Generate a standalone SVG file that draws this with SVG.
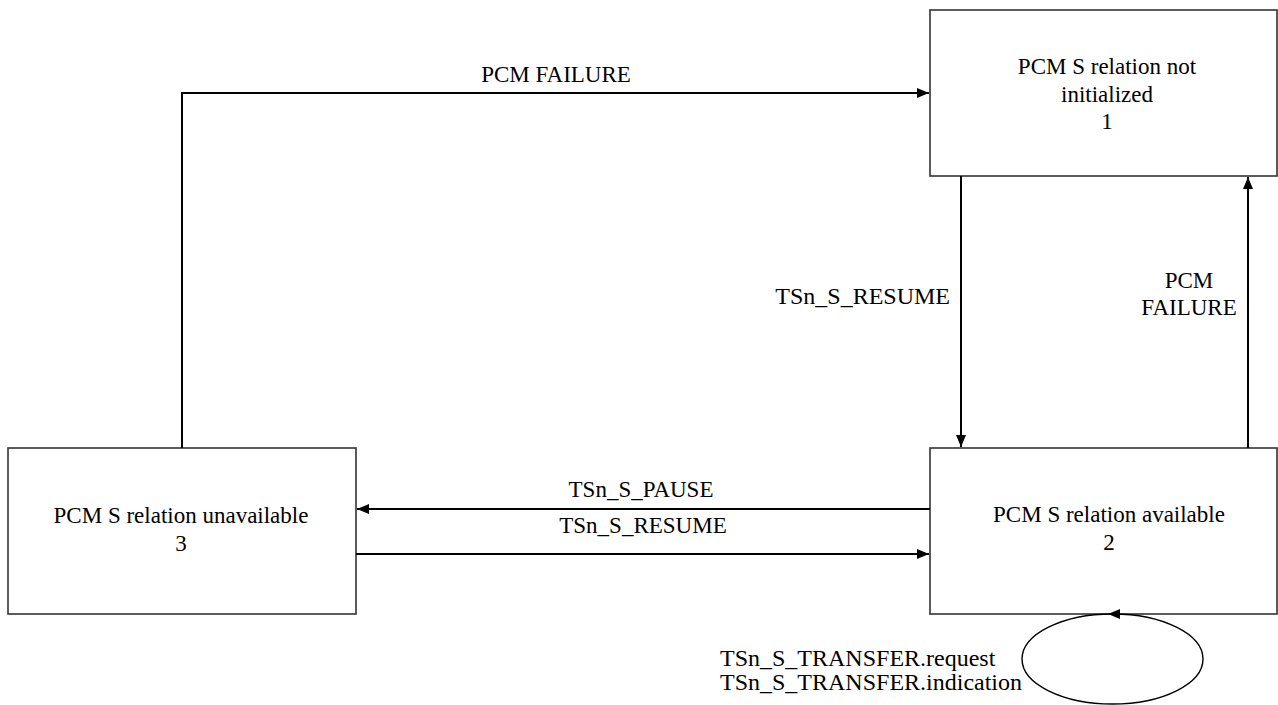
<svg xmlns="http://www.w3.org/2000/svg" width="1278" height="705" viewBox="0 0 1278 705">
<style>
.box{fill:#fff;stroke:#333;stroke-width:1.6}
.c{fill:none;stroke:#000;stroke-width:2}
.m{text-anchor:middle}
.e{text-anchor:end}
.big{font-size:24px}
</style>
<defs>
<marker id="ah" markerWidth="12" markerHeight="10" refX="12" refY="5" orient="auto" markerUnits="userSpaceOnUse">
<path d="M0,0 L12,5 L0,10 Z" fill="#000"/>
</marker>
</defs>
<rect width="1278" height="705" fill="#fff"/>
<g font-family="Liberation Serif, Times New Roman, serif" font-size="23" fill="#000">
<g id="node1">
<rect class="box" x="930" y="10" width="347" height="166"/>
<text class="m" x="1107" y="74">PCM S relation not</text>
<text class="m" x="1107" y="102">initialized</text>
<text class="m" x="1107" y="129">1</text>
</g>
<g id="node2">
<rect class="box" x="930" y="448" width="347" height="166"/>
<text class="m" x="1109" y="522">PCM S relation available</text>
<text class="m" x="1109" y="550">2</text>
</g>
<g id="node3">
<rect class="box" x="8" y="448" width="348" height="166"/>
<text class="m" x="181" y="523">PCM S relation unavailable</text>
<text class="m" x="181" y="551">3</text>
</g>
<g id="connectors">
<path class="c" d="M182,448 V93 H929" marker-end="url(#ah)"/>
<text class="m" x="556" y="82">PCM FAILURE</text>
<path class="c" d="M961,176 V447" marker-end="url(#ah)"/>
<text class="e big" x="950" y="304">TSn_S_RESUME</text>
<path class="c" d="M1248,448 V177" marker-end="url(#ah)"/>
<text class="m" x="1189" y="288">PCM</text>
<text class="m" x="1189" y="315">FAILURE</text>
<path class="c" d="M930,509 H357" marker-end="url(#ah)"/>
<text class="m" x="641" y="497">TSn_S_PAUSE</text>
<path class="c" d="M356,554 H929" marker-end="url(#ah)"/>
<text class="m" x="643" y="533">TSn_S_RESUME</text>
<ellipse cx="1112.5" cy="659" rx="90.5" ry="45" fill="none" stroke="#000" stroke-width="1.4"/>
<path d="M1108,614 L1120,609 L1120,619 Z" fill="#000"/>
<text class="big" x="720" y="666">TSn_S_TRANSFER.request</text>
<text class="big" x="720" y="690">TSn_S_TRANSFER.indication</text>
</g>
</g>
</svg>
